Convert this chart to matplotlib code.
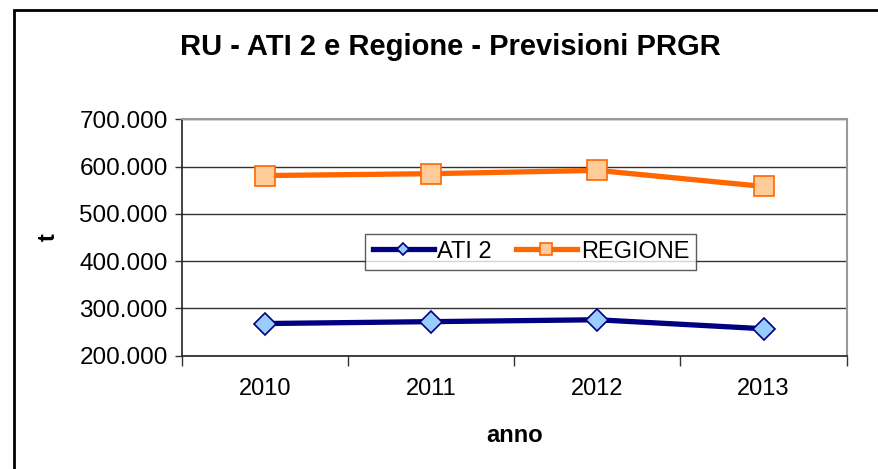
import matplotlib.pyplot as plt
from matplotlib.patches import Rectangle
from matplotlib.ticker import FuncFormatter, FixedLocator

plt.rcParams['font.family'] = ['Liberation Sans', 'DejaVu Sans']

## Data (tonnes per year).
anni = ['2010', '2011', '2012', '2013']
ati2 = [268000, 272000, 276000, 257000]
regione = [581000, 585000, 592000, 558000]

fig = plt.figure(figsize=(8.79, 4.69), dpi=100)
ax = fig.add_axes([0.2067, 0.2416, 0.7566, 0.504])

x = list(range(len(anni)))
ax.plot(x, ati2, color='#000080', lw=3.8, marker='D', ms=11,
        mfc='#99CCFF', mec='#000080', mew=1.2, label='ATI 2', zorder=3)
ax.plot(x, regione, color='#FF6600', lw=3.8, marker='s', ms=14,
        mfc='#FFCC99', mec='#FF6600', mew=1.2, label='REGIONE', zorder=3)

## Axes, ticks and grid like the Excel original.
ax.set_xlim(-0.5, len(anni) - 0.5)
ax.set_ylim(200000, 700000)
ax.set_yticks(range(200000, 700001, 100000))
ax.yaxis.set_major_formatter(FuncFormatter(lambda v, p: f'{int(v):,}'.replace(',', '.')))
ax.tick_params(axis='y', length=5, width=1, color='#333333', labelsize=17.5, pad=5)
ax.grid(axis='y', color='#333333', lw=1)

ax.xaxis.set_major_locator(FixedLocator([i - 0.5 for i in range(len(anni) + 1)]))
ax.xaxis.set_minor_locator(FixedLocator(x))
ax.set_xticklabels([], minor=False)
ax.set_xticklabels(anni, minor=True)
ax.tick_params(axis='x', which='major', length=7, width=1, color='#333333')
ax.tick_params(axis='x', which='minor', length=0, labelsize=17, pad=16)

for side in ['left', 'bottom']:
    ax.spines[side].set_color('#222222')
    ax.spines[side].set_linewidth(1.2)
for side in ['top', 'right']:
    ax.spines[side].set_color('#999999')
    ax.spines[side].set_linewidth(1.5)

ax.set_ylabel('t', fontsize=17, fontweight='bold', labelpad=14)
ax.set_xlabel('anno', fontsize=17, fontweight='bold', labelpad=17)

fig.text(0.512, 0.9, 'RU - ATI 2 e Regione - Previsioni PRGR',
         ha='center', va='center', fontsize=21, fontweight='bold')

leg = ax.legend(loc='center', bbox_to_anchor=(0.525, 0.44), ncol=2, fontsize=17,
                frameon=True, fancybox=False, edgecolor='#333333',
                handlelength=2.6, handletextpad=0.15, columnspacing=1.0,
                borderpad=0.3, markerscale=0.6)
leg.get_frame().set_linewidth(1)

## Outer chart frame (runs past the right and bottom edges).
fig.patches.append(Rectangle((14 / 879, -0.1), 1.2, (469 - 10) / 469 + 0.1,
                             transform=fig.transFigure, fill=False,
                             edgecolor='black', lw=2))

fig.savefig('out.png', dpi=100)
